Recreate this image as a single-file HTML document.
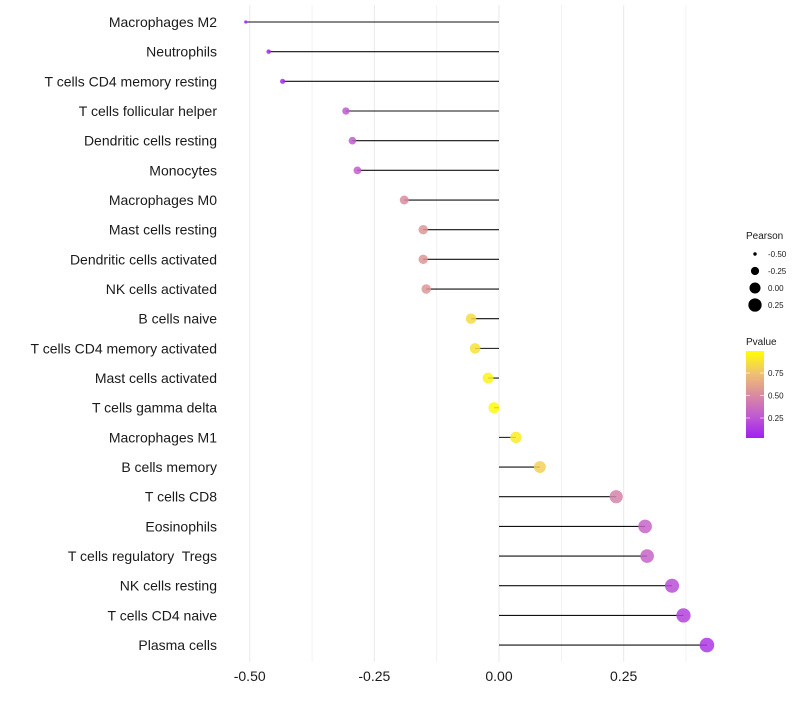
<!DOCTYPE html>
<html><head><meta charset="utf-8"><style>
body{margin:0;background:#fff;font-family:"Liberation Sans",sans-serif;}
svg text{font-family:"Liberation Sans",sans-serif;white-space:pre;}
</style></head><body>
<svg id="chart" width="800" height="700" xmlns="http://www.w3.org/2000/svg">
<g id="grid"></g>
<g id="marks"></g>
<g id="yaxis"></g>
<g id="xaxis"></g>
<g id="legend"></g>
</svg>
<script>
const categories=["Macrophages M2","Neutrophils","T cells CD4 memory resting","T cells follicular helper","Dendritic cells resting","Monocytes","Macrophages M0","Mast cells resting","Dendritic cells activated","NK cells activated","B cells naive","T cells CD4 memory activated","Mast cells activated","T cells gamma delta","Macrophages M1","B cells memory","T cells CD8","Eosinophils","T cells regulatory  Tregs","NK cells resting","T cells CD4 naive","Plasma cells"];
const pearson=[-0.508,-0.462,-0.434,-0.307,-0.294,-0.284,-0.19,-0.152,-0.152,-0.146,-0.056,-0.048,-0.022,-0.01,0.034,0.082,0.235,0.293,0.297,0.347,0.370,0.417];
const pvalues=[0.02,0.04,0.05,0.25,0.26,0.27,0.5,0.55,0.55,0.55,0.85,0.88,0.95,0.98,0.92,0.8,0.45,0.3,0.3,0.2,0.15,0.1];
const xTicks=[-0.5,-0.25,0,0.25];
const xTickLabels=["-0.50","-0.25","0.00","0.25"];
const sizeLegend=[-0.5,-0.25,0,0.25];
const sizeLegendLabels=["-0.50","-0.25","0.00","0.25"];
const colorTicks=[0.25,0.5,0.75];
const colorTickLabels=["0.25","0.50","0.75"];

const NS="http://www.w3.org/2000/svg";
const X=v=>499+v*498.6;
const Y=i=>22+i*29.67;
const R=v=>Math.sqrt(Math.max(0.5,3+(v+0.5)*55));
const stops=[[0,[160,32,240]],[0.25,[192,90,210]],[0.5,[218,140,160]],[0.75,[240,195,110]],[1,[255,255,0]]];
function col(p){for(let k=1;k<stops.length;k++){if(p<=stops[k][0]){const a=stops[k-1],b=stops[k],t=(p-a[0])/(b[0]-a[0]);return 'rgb('+a[1].map((c,j)=>Math.round(c+(b[1][j]-c)*t)).join(',')+')';}}return 'rgb(255,255,0)';}
function mk(tag,attrs,parent){const e=document.createElementNS(NS,tag);for(const k in attrs)e.setAttribute(k,attrs[k]);parent.appendChild(e);return e;}
const grid=document.getElementById('grid'),marks=document.getElementById('marks'),yax=document.getElementById('yaxis'),xax=document.getElementById('xaxis'),leg=document.getElementById('legend');
[-0.5,-0.375,-0.25,-0.125,0,0.125,0.25,0.375].forEach(v=>{
 const l=mk('line',{x1:X(v),x2:X(v),y1:5,y2:662,stroke:'#ebebeb','stroke-width':Number.isInteger(v*4)?1.1:0.6},grid);
 
 
});
categories.forEach((c,i)=>{
 const ln=mk('line',{x1:X(0),x2:X(pearson[i]),y1:Y(i),y2:Y(i),stroke:'#111','stroke-width':1.1},marks);
 
 
 const d=mk('circle',{cx:X(pearson[i]),cy:Y(i),r:R(pearson[i]),fill:col(pvalues[i]),'fill-opacity':0.85},marks);
 
 
 const t=mk('text',{x:217,y:Y(i)+5,'text-anchor':'end','font-size':14,fill:'#1a1a1a'},yax);
 t.textContent=c;
 
 
});
xTicks.forEach((v,i)=>{
 const t=mk('text',{x:X(v),y:681,'text-anchor':'middle','font-size':14,fill:'#1a1a1a'},xax);
 t.textContent=xTickLabels[i];
 
 
});
let t=mk('text',{x:746,y:239,'font-size':10,fill:'#1a1a1a'},leg);t.textContent='Pearson';


sizeLegend.forEach((v,i)=>{
 const y=254+i*17;
 const c=mk('circle',{cx:755,cy:y,r:R(v),fill:'#000'},leg);
 
 
 const tx=mk('text',{x:768,y:y+3,'font-size':8,fill:'#1a1a1a'},leg);tx.textContent=sizeLegendLabels[i];
 
 
});
t=mk('text',{x:746,y:345,'font-size':10,fill:'#1a1a1a'},leg);t.textContent='Pvalue';


const defs=mk('defs',{},leg);const g=mk('linearGradient',{id:'pg',x1:0,y1:1,x2:0,y2:0},defs);
stops.forEach(s=>mk('stop',{offset:s[0],'stop-color':col(s[0])},g));
const bar=mk('rect',{x:746,y:351,width:18,height:87,fill:'url(#pg)'},leg);


const CY=p=>440.5-p*90;
colorTicks.forEach((p,i)=>{
 mk('line',{x1:746,x2:750,y1:CY(p),y2:CY(p),stroke:'#fff','stroke-opacity':0.6},leg);
 mk('line',{x1:760,x2:764,y1:CY(p),y2:CY(p),stroke:'#fff','stroke-opacity':0.6},leg);
 const tx=mk('text',{x:768,y:CY(p)+3,'font-size':8,fill:'#1a1a1a'},leg);tx.textContent=colorTickLabels[i];
 
 
});
</script>
</body></html>
